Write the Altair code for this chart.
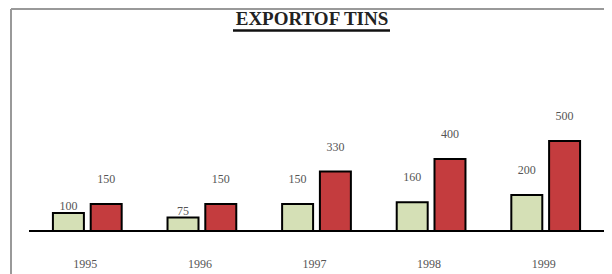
import altair as alt
import pandas as pd

title_text = "EXPORTOF TINS"
years = ["1995", "1996", "1997", "1998", "1999"]
series_names = ["Series 1", "Series 2"]
values_series1 = [100, 75, 150, 160, 200]
values_series2 = [150, 150, 330, 400, 500]

rows = []
for i, y in enumerate(years):
    rows.append({"year": y, "series": series_names[0], "value": values_series1[i]})
    rows.append({"year": y, "series": series_names[1], "value": values_series2[i]})
df = pd.DataFrame(rows)

GREEN = "#d5e0b6"
RED = "#c43c3e"
SERIF = "Liberation Serif"

x_enc = alt.X(
    "year:N",
    sort=years,
    scale=alt.Scale(paddingInner=0.4, paddingOuter=0.2),
    axis=alt.Axis(
        title=None, domain=False, ticks=False, labelAngle=0, labelPadding=27,
        labelFont=SERIF, labelFontSize=12, labelColor="#555555", labelOffset=-2,
        grid=False,
    ),
)
xoff_enc = alt.XOffset("series:N", sort=series_names,
                       scale=alt.Scale(paddingInner=0.18, paddingOuter=0))
y_enc = alt.Y("value:Q", scale=alt.Scale(domain=[0, 1000]), axis=None)

base = alt.Chart(df).encode(x=x_enc, xOffset=xoff_enc, y=y_enc)

bars = base.mark_bar(stroke="black", strokeWidth=2).encode(
    color=alt.Color("series:N", scale=alt.Scale(domain=series_names, range=[GREEN, RED]), legend=None)
)

near = (alt.datum.series == series_names[0]) & ((alt.datum.year == "1995") | (alt.datum.year == "1996"))

labels_far = base.mark_text(dy=-25, baseline="middle", font=SERIF, fontSize=12, color="#555555").encode(
    text="value:Q"
).transform_filter(~near)

labels_near = base.mark_text(dy=-7, baseline="middle", font=SERIF, fontSize=12, color="#555555").encode(
    text="value:Q"
).transform_filter(near)

tdf = pd.DataFrame({"t": [title_text]})
title = alt.Chart(tdf).mark_text(font=SERIF, fontSize=19, fontWeight="bold", color="#222222",
                                 baseline="middle", align="center").encode(
    text="t:N", x=alt.value(282), y=alt.value(-32)
)
underline = alt.Chart(tdf).mark_rule(color="#111111", strokeWidth=2.5).encode(
    x=alt.value(203), x2=alt.value(360), y=alt.value(-20.5)
)
baseline = alt.Chart(tdf).mark_rule(color="black", strokeWidth=2).encode(
    x=alt.value(-1), x2=alt.value(574), y=alt.value(180)
)
frame_left = alt.Chart(tdf).mark_rule(color="#999999", strokeWidth=2).encode(
    x=alt.value(-19), y=alt.value(-42), y2=alt.value(223)
)
frame_top = alt.Chart(tdf).mark_rule(color="#999999", strokeWidth=2).encode(
    x=alt.value(-19), x2=alt.value(574), y=alt.value(-42)
)

chart = alt.layer(
    frame_left, frame_top, bars, baseline, labels_far, labels_near, title, underline
).properties(
    width=573, height=180,
    autosize=alt.AutoSizeParams(type="none"),
    padding={"left": 22, "top": 43, "right": 1, "bottom": 43},
).configure_view(stroke=None)

chart.save("out.html", embed_options={"renderer": "svg", "actions": False})
